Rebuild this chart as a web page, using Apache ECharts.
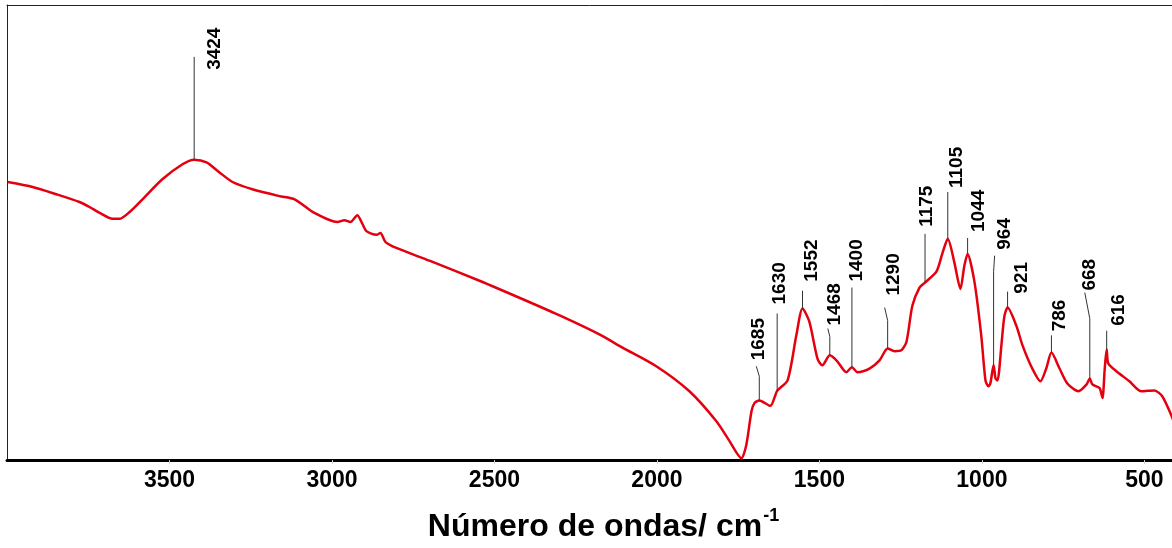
<!DOCTYPE html>
<html>
<head>
<meta charset="utf-8">
<script src="https://cdn.jsdelivr.net/npm/echarts@6/dist/echarts.min.js"></script>
<style>
  html, body { margin: 0; padding: 0; background: #fff; }
  #chart { width: 1172px; height: 548px; }
</style>
</head>
<body>
<div id="chart"></div>
<script>
// FTIR spectrum: wavenumber (cm-1) and relative transmittance (%)
const wavenumbers = [
  3998, 3921, 3848, 3777, 3746, 3715, 3675, 3654, 3623, 3583,
  3522, 3460, 3424, 3386, 3346, 3306, 3245, 3162, 3115, 3054,
  2983, 2962, 2943, 2922, 2909, 2894, 2863, 2851, 2835, 2802,
  2700, 2546, 2402, 2291, 2177, 2106, 2002, 1900, 1817, 1777,
  1740, 1725, 1709, 1700, 1685, 1651, 1630, 1598, 1571, 1552,
  1531, 1506, 1491, 1468, 1445, 1417, 1400, 1383, 1346, 1315,
  1290, 1269, 1248, 1232, 1214, 1192, 1175, 1140, 1122, 1105,
  1085, 1066, 1054, 1044, 1023, 1002, 989, 980, 974, 964,
  958, 952, 940, 931, 921, 894, 875, 845, 820, 802,
  786, 761, 737, 703, 678, 668, 660, 638, 629, 622,
  616, 611, 586, 546, 509, 469, 445, 417, 402
];
const transmittance = [
  61.1, 60.0, 58.4, 56.7, 55.6, 54.3, 53.0, 53.0, 54.5, 57.3,
  61.7, 65.0, 66.0, 65.4, 63.2, 61.1, 59.5, 58.0, 57.3, 54.3,
  52.3, 52.7, 52.3, 53.8, 52.3, 50.3, 49.5, 49.9, 47.9, 46.6,
  43.8, 39.4, 35.0, 31.5, 27.6, 24.7, 20.6, 15.1, 8.5, 4.2,
  0.4, 3.3, 10.7, 12.5, 13.1, 11.9, 15.2, 17.5, 27.4, 33.3,
  30.4, 22.3, 20.8, 23.0, 21.7, 19.3, 20.4, 19.3, 20.1, 21.9,
  24.5, 23.9, 24.1, 26.0, 33.9, 37.9, 39.0, 41.4, 45.3, 48.6,
  43.5, 37.6, 42.7, 45.3, 39.2, 27.4, 17.5, 16.2, 16.8, 20.8,
  17.9, 17.5, 25.2, 31.5, 33.5, 29.5, 25.2, 20.1, 17.3, 20.1,
  23.6, 20.1, 16.8, 15.1, 16.6, 17.9, 16.6, 15.8, 13.6, 20.1,
  24.3, 21.2, 19.5, 17.3, 15.1, 15.3, 14.0, 9.8, 7.0
];

// Assigned bands and the height each leader line reaches (same units as transmittance)
const peakWavenumbers = [3424, 1685, 1630, 1552, 1468, 1400, 1290, 1175, 1105, 1044, 964, 921, 786, 668, 616];
const peakLabels = ['3424', '1685', '1630', '1552', '1468', '1400', '1290', '1175', '1105', '1044', '964', '921', '786', '668', '616'];
const leaderTops = [88.6, 20.6, 32.2, 37.2, 28.9, 37.9, 33.5, 49.7, 58.9, 48.8, 44.9, 37.0, 27.4, 36.8, 28.4];

// Axis ticks
const xTickValues = [500, 1000, 1500, 2000, 2500, 3000, 3500];

// Label placement next to each leader (pixels): [label dx, label dy, kink dx, kink length]
const labelLayout = [
  [21, 13, 0, 0],
  [-1, -6, -3, 10],
  [3, -9, 0, 0],
  [9, -9, 0, 0],
  [5, -3, -2, 8],
  [5, -6, 0, 0],
  [6, -12, -3, 13],
  [2, -7, 0, 0],
  [9, -4, 0, 0],
  [11, -6, 0, 0],
  [11, -6, 1, 16],
  [14, 2, 0, 0],
  [8, -4, 0, 0],
  [0, -2, -5, 26],
  [12, -5, 0, 0]
];

// Curve height at a given wavenumber (linear between stored points)
function curveAt(wn) {
  for (let i = 0; i < wavenumbers.length - 1; i++) {
    const a = wavenumbers[i], b = wavenumbers[i + 1];
    if (wn <= a && wn >= b) {
      const t = (a - wn) / (a - b);
      return transmittance[i] + t * (transmittance[i + 1] - transmittance[i]);
    }
  }
  return 0;
}

const spectrum = wavenumbers.map((w, i) => [w, transmittance[i]]);
const peaks = peakWavenumbers.map((w, i) => [w, leaderTops[i], curveAt(w), i]);

const chart = echarts.init(document.getElementById('chart'), null, { renderer: 'canvas' });

const frameLine = { show: true, onZero: false, lineStyle: { color: '#222', width: 1 } };
const bold = { fontFamily: 'Liberation Sans', fontWeight: 'bold', color: '#000' };

chart.setOption({
  animation: false,
  backgroundColor: '#ffffff',
  grid: {
    left: 7,
    top: 5,
    right: 0,
    bottom: 86,
    show: false
  },
  xAxis: [
    {
      type: 'value',
      min: 415,
      max: 4000,
      inverse: true,
      name: '{a|Número de ondas/ cm}{b|-1}',
      nameLocation: 'middle',
      nameGap: 47,
      nameTextStyle: {
        padding: [0, 0, 0, 28],
        rich: {
          a: Object.assign({ fontSize: 32, verticalAlign: 'bottom', lineHeight: 36 }, bold),
          b: Object.assign({ fontSize: 18, verticalAlign: 'top', lineHeight: 36, padding: [0, 0, 0, 1] }, bold)
        }
      },
      axisLine: { show: true, onZero: false, lineStyle: { color: '#000', width: 3 } },
      axisTick: { show: true, customValues: xTickValues, length: 4, lineStyle: { color: '#d0d0d0', width: 1 } },
      axisLabel: Object.assign({
        customValues: xTickValues,
        formatter: function (v) { return String(v); },
        margin: 9,
        fontSize: 23
      }, bold),
      splitLine: { show: false }
    },
    {
      // top edge of the frame
      type: 'value',
      position: 'top',
      min: 415,
      max: 4000,
      inverse: true,
      axisLine: frameLine,
      axisTick: { show: false },
      axisLabel: { show: false },
      splitLine: { show: false }
    }
  ],
  yAxis: {
    // left edge of the frame
    type: 'value',
    min: 0,
    max: 100,
    axisLine: frameLine,
    axisTick: { show: false },
    axisLabel: { show: false },
    splitLine: { show: false }
  },
  series: [
    {
      type: 'line',
      data: spectrum,
      showSymbol: false,
      smooth: 0.25,
      clip: true,
      lineStyle: { color: '#e5000f', width: 2.5 },
      z: 3
    },
    {
      type: 'custom',
      data: peaks,
      encode: { x: 0, y: 1 },
      clip: false,
      z: 4,
      renderItem: function (params, api) {
        const idx = api.value(3);
        const wn = api.value(0);
        const base = api.coord([wn, api.value(2)]);
        const top = api.coord([wn, api.value(1)]);
        const lay = labelLayout[idx];
        const pts = lay[3] > 0
          ? [[base[0], base[1]], [base[0], top[1] + lay[3]], [base[0] + lay[2], top[1]]]
          : [[base[0], base[1]], [base[0], top[1]]];
        return {
          type: 'group',
          children: [
            {
              type: 'polyline',
              shape: { points: pts },
              style: { stroke: '#333', lineWidth: 1, fill: null }
            },
            {
              type: 'text',
              x: base[0] + lay[0],
              y: top[1] + lay[1],
              rotation: Math.PI / 2,
              style: {
                text: peakLabels[idx],
                fontFamily: 'Liberation Sans',
                fontWeight: 'bold',
                fontSize: 19,
                fill: '#000',
                align: 'left',
                verticalAlign: 'middle'
              }
            }
          ]
        };
      }
    }
  ]
});
</script>
</body>
</html>
